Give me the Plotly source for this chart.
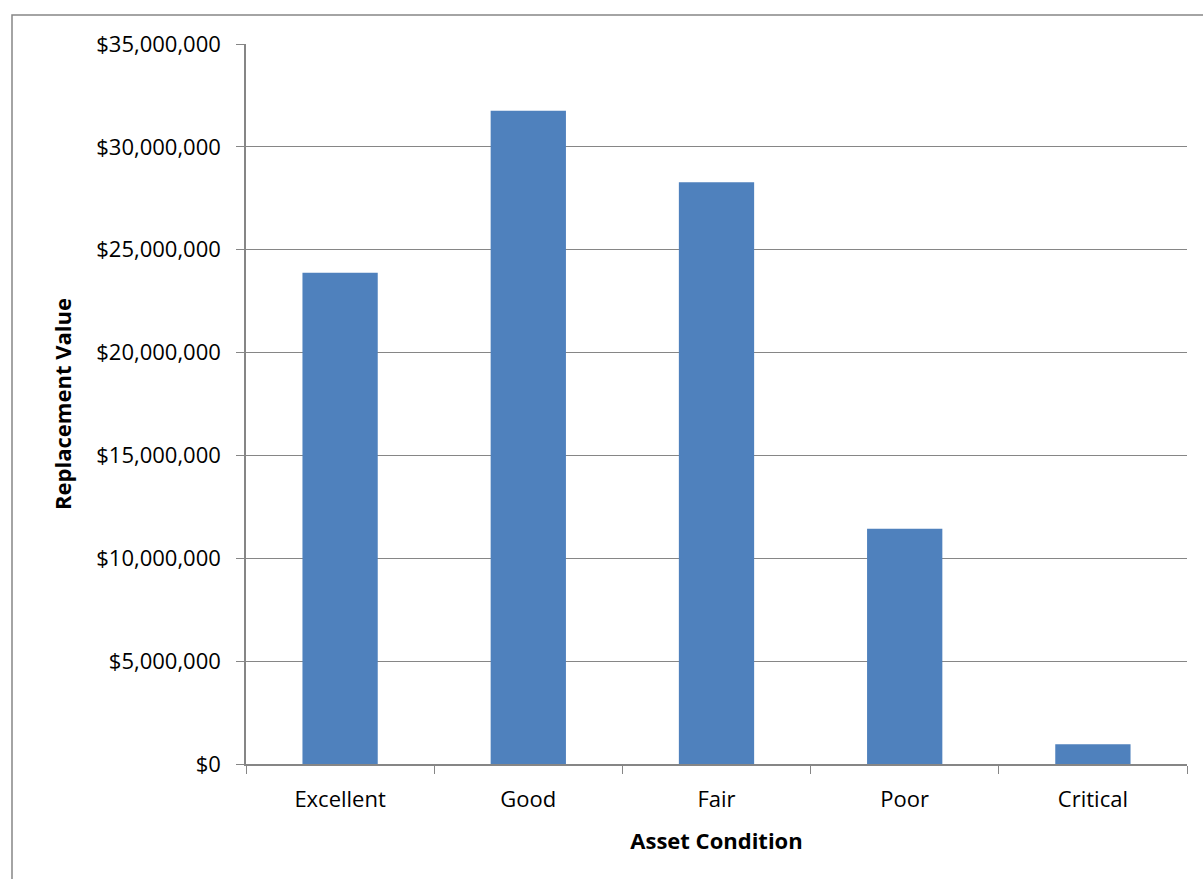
import plotly.graph_objects as go

# Replacement value by asset condition
conditions = ["Excellent", "Good", "Fair", "Poor", "Critical"]
replacement_values = [23880000, 31760000, 28280000, 11440000, 960000]
y_tick_values = [0, 5000000, 10000000, 15000000, 20000000, 25000000, 30000000, 35000000]
y_tick_labels = ["$0", "$5,000,000", "$10,000,000", "$15,000,000", "$20,000,000",
                 "$25,000,000", "$30,000,000", "$35,000,000"]

W, H = 1203, 879
ML, MR, MT, MB = 246, 16, 44, 115
pw = W - ML - MR
ph = H - MT - MB

def px_to_paper_x(px):
    return (px - ML) / pw

def px_to_paper_y(py):
    return (H - MB - py) / ph

axis_gray = "#868686"
font_family = "'Open Sans', sans-serif"
fs = 22

fig = go.Figure(
    go.Bar(
        x=conditions,
        y=replacement_values,
        marker=dict(color="#4F81BD", line=dict(width=0)),
        hoverinfo="x+y",
    )
)

fig.update_layout(
    width=W,
    height=H,
    margin=dict(l=ML, r=MR, t=MT, b=MB),
    paper_bgcolor="white",
    plot_bgcolor="white",
    bargap=0.6,
    showlegend=False,
    font=dict(family=font_family, size=fs, color="black"),
    xaxis=dict(
        showline=True,
        linecolor=axis_gray,
        linewidth=1.5,
        ticks="outside",
        tickson="boundaries",
        ticklen=8,
        tickcolor=axis_gray,
        showgrid=False,
        tickfont=dict(size=fs),
        ticklabelstandoff=15,
        title=dict(text="<b>Asset Condition</b>", font=dict(size=fs), standoff=21),
    ),
    yaxis=dict(
        range=[0, 35000000],
        tickvals=y_tick_values,
        ticktext=y_tick_labels,
        showline=True,
        linecolor=axis_gray,
        linewidth=1.5,
        ticks="outside",
        ticklen=8,
        tickcolor=axis_gray,
        showgrid=True,
        gridcolor=axis_gray,
        gridwidth=1,
        zeroline=False,
        tickfont=dict(size=fs),
        ticklabelstandoff=11,
        title=dict(text="<b>Replacement Value</b>", font=dict(size=fs), standoff=19),
    ),
    shapes=[
        dict(
            type="rect",
            xref="paper", yref="paper",
            x0=px_to_paper_x(12), x1=px_to_paper_x(1215),
            y0=px_to_paper_y(895), y1=px_to_paper_y(15),
            line=dict(color=axis_gray, width=1.5),
            fillcolor="rgba(0,0,0,0)",
            layer="below",
        )
    ],
)

fig.write_html("out.html")
